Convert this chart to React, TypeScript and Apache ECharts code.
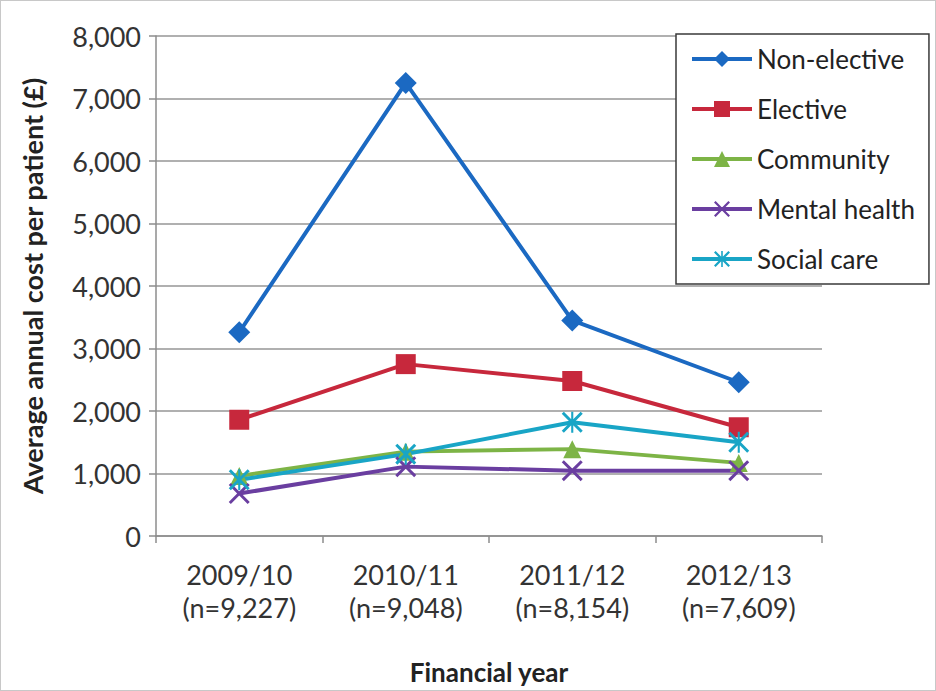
import React, { useEffect, useRef } from "react";
import * as echarts from "echarts";

// Financial years (with cohort size) on the x axis
const years = ["2009/10", "2010/11", "2011/12", "2012/13"];
const cohortSizes = ["9,227", "9,048", "8,154", "7,609"];

// Average annual cost per patient (£) by care setting
const nonElective = [3260, 7250, 3450, 2460];
const elective = [1860, 2750, 2480, 1740];
const community = [960, 1350, 1390, 1170];
const mentalHealth = [680, 1110, 1045, 1045];
const socialCare = [900, 1310, 1820, 1500];

const yTicks = { min: 0, max: 8000, interval: 1000 };

const FONT = "Lato, 'Noto Sans', sans-serif";

// X-shaped marker and asterisk marker drawn as filled outlines
const crossSymbol =
  "path://M0,1L1,0L5,4L9,0L10,1L6,5L10,9L9,10L5,6L1,10L0,9L4,5Z";
const starSymbol =
  "path://M0,1L1,0L5,4L9,0L10,1L6,5L10,9L9,10L5,6L1,10L0,9L4,5Z M4.5,0L5.5,0L5.5,10L4.5,10Z";

const seriesDefs = [
  { name: "Non-elective", data: nonElective, color: "#1b69c2", symbol: "diamond", size: 22 },
  { name: "Elective", data: elective, color: "#c7283c", symbol: "rect", size: 20 },
  { name: "Community", data: community, color: "#7db446", symbol: "triangle", size: 18 },
  { name: "Mental health", data: mentalHealth, color: "#6a3ea0", symbol: crossSymbol, size: 21 },
  { name: "Social care", data: socialCare, color: "#19a5c6", symbol: starSymbol, size: 21 },
];

export default function App() {
  const ref = useRef<HTMLDivElement>(null);

  useEffect(() => {
    if (!ref.current) return;
    const chart = echarts.init(ref.current, undefined, { renderer: "svg" });
    chart.setOption({
      animation: false,
      backgroundColor: "#ffffff",
      textStyle: { fontFamily: FONT },
      grid: { left: 155, right: 113, top: 35, bottom: 153 },
      legend: {
        orient: "vertical",
        left: 675,
        top: 33,
        width: 258,
        backgroundColor: "#ffffff",
        borderColor: "#3a3a3a",
        borderWidth: 1.5,
        borderRadius: 0,
        padding: [12, 14, 12, 14],
        itemWidth: 60,
        itemHeight: 20,
        itemGap: 24,
        lineStyle: { width: 4 },
        textStyle: { fontFamily: FONT, fontSize: 26, color: "#222222", lineHeight: 26 },
        data: seriesDefs.map((s) => s.name),
      },
      xAxis: {
        type: "category",
        data: years.map((y, i) => `${y}\n(n=${cohortSizes[i]})`),
        boundaryGap: true,
        axisLine: { lineStyle: { color: "#8c8c8c", width: 1.5 } },
        axisTick: { show: true, length: 7, lineStyle: { color: "#8c8c8c", width: 1.5 } },
        axisLabel: {
          margin: 22,
          fontFamily: FONT,
          fontSize: 27,
          lineHeight: 33,
          color: "#333333",
        },
        name: "Financial year",
        nameLocation: "middle",
        nameGap: 123,
        nameTextStyle: { fontFamily: FONT, fontSize: 26, fontWeight: "bold", color: "#222222" },
      },
      yAxis: {
        type: "value",
        min: yTicks.min,
        max: yTicks.max,
        interval: yTicks.interval,
        axisLine: { show: true, lineStyle: { color: "#8c8c8c", width: 1.5 } },
        axisTick: { show: true, length: 7, lineStyle: { color: "#8c8c8c", width: 1.5 } },
        splitLine: { lineStyle: { color: "#969696", width: 1.5 } },
        axisLabel: {
          margin: 15,
          fontFamily: FONT,
          fontSize: 27,
          color: "#333333",
          formatter: (v: number) => v.toLocaleString("en-GB"),
        },
        name: "Average annual cost per patient (£)",
        nameLocation: "middle",
        nameRotate: 90,
        nameGap: 110,
        nameTextStyle: { fontFamily: FONT, fontSize: 27, fontWeight: "bold", color: "#222222" },
      },
      series: seriesDefs.map((s) => ({
        name: s.name,
        type: "line",
        data: s.data,
        symbol: s.symbol,
        symbolSize: s.size,
        showAllSymbol: true,
        lineStyle: { color: s.color, width: 4 },
        itemStyle: { color: s.color },
        z: 2,
      })),
    });
    return () => chart.dispose();
  }, []);

  return (
    <div
      ref={ref}
      style={{
        position: "fixed",
        left: 0,
        top: 0,
        width: 936,
        height: 691,
        boxSizing: "border-box",
        border: "1px solid #c8c8c8",
        background: "#ffffff",
      }}
    />
  );
}
